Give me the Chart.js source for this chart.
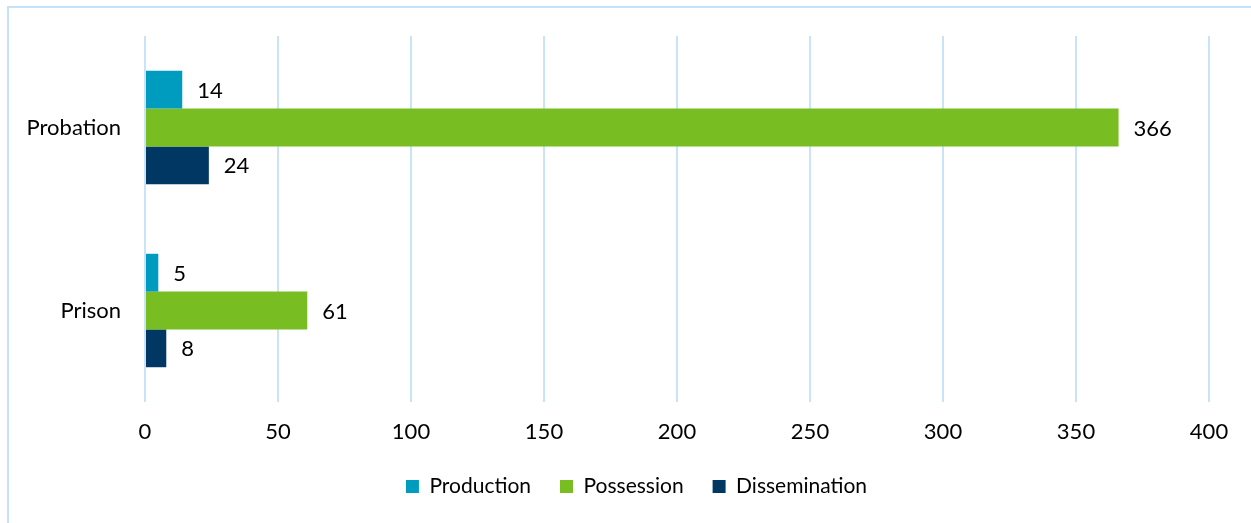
<!DOCTYPE html>
<html>
<head>
<meta charset="utf-8">
<script src="https://cdn.jsdelivr.net/npm/chart.js@4"></script>
<style>
  html, body { margin: 0; padding: 0; background: #fff; overflow: hidden; }
  #frame {
    position: absolute; left: 7px; top: 6px; width: 1400px; height: 700px;
    border-left: 2px solid #c6e2f8; border-top: 2px solid #c6e2f8;
  }
  #wrap { position: absolute; left: 0; top: 0; width: 1251px; height: 523px; }
</style>
</head>
<body>
<div id="frame"></div>
<div id="wrap"><canvas id="chart"></canvas></div>
<script>
const categories = ['Probation', 'Prison'];
const production = [14, 5];
const possession = [366, 61];
const dissemination = [24, 8];
const xTicks = [0, 50, 100, 150, 200, 250, 300, 350, 400];

const FONT = 'Lato';

// write each value just right of its bar
const barLabels = {
  id: 'barLabels',
  afterDatasetsDraw(chart) {
    const ctx = chart.ctx;
    ctx.save();
    ctx.font = '22px ' + FONT;
    ctx.fillStyle = '#000';
    ctx.textBaseline = 'middle';
    ctx.textAlign = 'left';
    chart.data.datasets.forEach((ds, i) => {
      chart.getDatasetMeta(i).data.forEach((bar, j) => {
        ctx.fillText(ds.data[j], bar.x + 15, bar.y + 1);
      });
    });
    ctx.restore();
  }
};

// legend sits a little right of the plot centre in the original
const legendShift = {
  id: 'legendShift',
  afterLayout(chart) {
    chart.legend.left += 32;
    chart.legend.right += 32;
  }
};

new Chart(document.getElementById('chart'), {
  type: 'bar',
  data: {
    labels: categories,
    datasets: [
      { label: 'Production', data: production, backgroundColor: '#009cbf' },
      { label: 'Possession', data: possession, backgroundColor: '#78bd21' },
      { label: 'Dissemination', data: dissemination, backgroundColor: '#003763' }
    ]
  },
  options: {
    indexAxis: 'y',
    responsive: true,
    maintainAspectRatio: false,
    animation: false,
    datasets: { bar: { barPercentage: 1, categoryPercentage: 0.62 } },
    layout: { padding: { top: 36, right: 42, left: 0, bottom: 16 } },
    plugins: {
      legend: {
        position: 'bottom',
        labels: {
          boxWidth: 13,
          boxHeight: 13,
          padding: 29,
          color: '#000',
          font: { family: FONT, size: 21 }
        }
      },
      tooltip: { enabled: false }
    },
    scales: {
      x: {
        min: 0,
        max: 400,
        afterBuildTicks: (scale) => { scale.ticks = xTicks.map(v => ({ value: v })); },
        afterFit: (scale) => { scale.height = 45; },
        grid: { color: '#c9e4f9', lineWidth: 2, drawTicks: false },
        border: { display: false },
        ticks: { color: '#000', padding: 17, font: { family: FONT, size: 22 } }
      },
      y: {
        afterFit: (scale) => { scale.width = 145; },
        grid: { display: false },
        border: { display: false },
        ticks: { color: '#000', padding: 16, font: { family: FONT, size: 22 } }
      }
    }
  },
  plugins: [barLabels, legendShift]
});
</script>
</body>
</html>
